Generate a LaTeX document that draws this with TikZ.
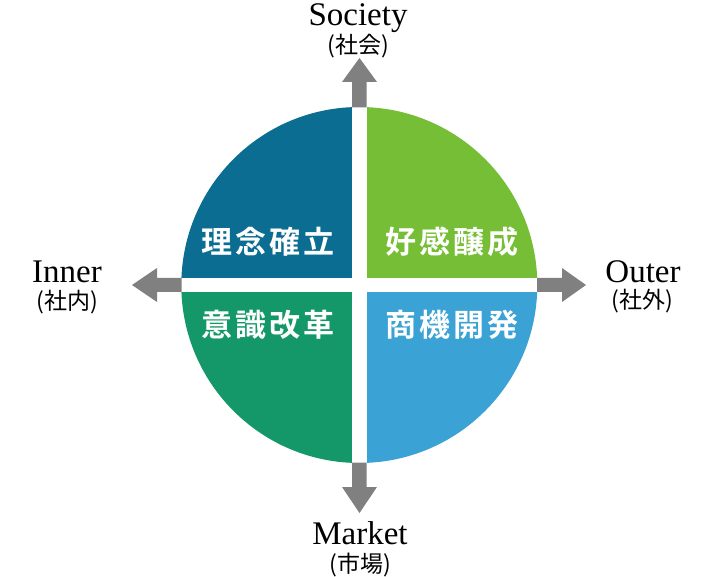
\documentclass[tikz,border=0pt]{standalone}
\usepackage{fontspec}
\setmainfont{Liberation Serif}
\newfontfamily\cjk{Noto Sans CJK JP}
\newfontfamily\cjkbold[LetterSpace=10]{Noto Sans CJK JP Bold}
\definecolor{qTL}{RGB}{11,109,145}
\definecolor{qTR}{RGB}{118,190,53}
\definecolor{qBL}{RGB}{20,152,105}
\definecolor{qBR}{RGB}{58,162,212}
\definecolor{arrowgray}{RGB}{128,128,128}
\tikzset{
  quadtext/.style={text=white,font=\cjkbold\fontsize{31}{31}\selectfont,inner sep=0pt},
  axislabel/.style={font=\fontsize{33}{33}\selectfont,anchor=base,inner sep=0pt},
  axissub/.style={font=\cjk\fontsize{23}{23}\selectfont,inner sep=0pt},
  bigarrow/.style={fill=arrowgray,draw=none}
}
\begin{document}
\begin{tikzpicture}[x=1pt,y=-1pt]
\useasboundingbox (0,0) rectangle (710,577);
\coordinate (c) at (359.3,285);
% quadrants
\fill[qTR] (c) -- ++(0:178) arc[start angle=0,end angle=-90,radius=178] -- cycle;
\fill[qTL] (c) -- ++(-90:178) arc[start angle=-90,end angle=-180,radius=178] -- cycle;
\fill[qBL] (c) -- ++(180:178) arc[start angle=180,end angle=90,radius=178] -- cycle;
\fill[qBR] (c) -- ++(90:178) arc[start angle=90,end angle=0,radius=178] -- cycle;
% white cross
\fill[white] (352,100) rectangle (366.6,470);
\fill[white] (175,278) rectangle (545,292);
% arrows
\fill[bigarrow] (352,107.3) -- (352,82) -- (342,82) -- (359.5,58) -- (377,82) -- (366.6,82) -- (366.6,107.3) -- cycle;
\fill[bigarrow] (352,462.7) -- (352,487) -- (342,487) -- (359.5,513) -- (377,487) -- (366.6,487) -- (366.6,462.7) -- cycle;
\fill[bigarrow] (537,278) -- (562,278) -- (562,268) -- (586,285) -- (562,302) -- (562,292) -- (537,292) -- cycle;
\fill[bigarrow] (181.5,278) -- (157,278) -- (157,268) -- (132,285) -- (157,302) -- (157,292) -- (181.5,292) -- cycle;
% quadrant texts
\node[quadtext] (tl) at (268,242) {理念確立};
\node[quadtext] (tr) at (452,242) {好感醸成};
\node[quadtext] (bl) at (268,325) {意識改革};
\node[quadtext] (br) at (452,325) {商機開発};
% axis labels
\node[axislabel] (society) at (358,25.5) {Society};
\node[axissub] (societyj) at (358,46) {(社会)};
\node[axislabel] (inner) at (67,283) {Inner};
\node[axissub] (innerj) at (67,302) {(社内)};
\node[axislabel] (outer) at (643,283) {Outer};
\node[axissub] (outerj) at (642,301) {(社外)};
\node[axislabel] (market) at (360,544) {Market};
\node[axissub] (marketj) at (360,565) {(市場)};
\end{tikzpicture}
\end{document}
